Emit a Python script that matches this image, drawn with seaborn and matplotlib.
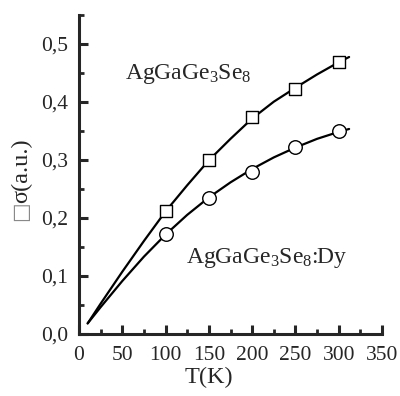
import numpy as np
import pandas as pd
import matplotlib
matplotlib.use("Agg")
import matplotlib.pyplot as plt
import seaborn as sns
from matplotlib.ticker import MultipleLocator, FuncFormatter

# measured points
temp = [100, 150, 200, 250, 300]
sig_pure = [0.211, 0.300, 0.374, 0.422, 0.469]
sig_dy = [0.172, 0.234, 0.279, 0.322, 0.350]

# fitted curves
fit_t = [10, 25, 50, 75, 100, 125, 150, 175, 200, 225, 250, 275, 300, 312]
fit_pure = [0.018, 0.052, 0.107, 0.160, 0.211, 0.256, 0.299, 0.336, 0.371,
            0.400, 0.424, 0.447, 0.468, 0.477]
fit_dy = [0.018, 0.046, 0.091, 0.133, 0.171, 0.205, 0.235, 0.261, 0.284,
          0.304, 0.321, 0.336, 0.348, 0.353]


def main():
    sns.set_style("ticks")
    plt.rcParams["font.family"] = ["Liberation Serif", "DejaVu Serif"]
    plt.rcParams["mathtext.default"] = "regular"

    fig = plt.figure(figsize=(4.0, 3.96), dpi=100)
    ax = fig.add_axes([0.1975, 0.157, 0.7575, 0.806])

    fits = pd.DataFrame({"T": fit_t, "pure": fit_pure, "dy": fit_dy})
    pts = pd.DataFrame({"T": temp, "pure": sig_pure, "dy": sig_dy})

    sns.lineplot(data=fits, x="T", y="pure", color="black", lw=1.6, ax=ax)
    sns.lineplot(data=fits, x="T", y="dy", color="black", lw=1.6, ax=ax)
    sns.scatterplot(data=pts, x="T", y="pure", marker="s", s=80,
                    facecolor="white", edgecolor="black", linewidth=1.0, ax=ax, zorder=3)
    sns.scatterplot(data=pts, x="T", y="dy", marker="o", s=95,
                    facecolor="white", edgecolor="black", linewidth=1.0, ax=ax, zorder=3)

    ax.set_xlim(0, 350)
    ax.set_ylim(0, 0.55)
    ax.xaxis.set_major_locator(MultipleLocator(50))
    ax.xaxis.set_minor_locator(MultipleLocator(25))
    ax.yaxis.set_major_locator(MultipleLocator(0.1))
    ax.yaxis.set_minor_locator(MultipleLocator(0.05))
    ax.yaxis.set_major_formatter(FuncFormatter(lambda v, p: f"{v:.1f}".replace(".", ",")))

    for side in ["top", "right"]:
        ax.spines[side].set_visible(False)
    for side in ["left", "bottom"]:
        ax.spines[side].set_linewidth(2.2)
    ax.tick_params(which="major", direction="in", length=6.5, width=2.2, labelsize=15.5)
    ax.tick_params(axis="x", which="major", pad=9)
    ax.tick_params(axis="y", which="major", pad=8)
    ax.tick_params(which="minor", direction="in", length=3.5, width=2.0)

    ax.set_xlabel("T(K)", fontsize=17.5)
    ax.xaxis.set_label_coords(0.43, -0.105)
    ax.set_ylabel("")
    fig.text(0.055, 0.57, "σ(a.u.)", fontsize=17.5, rotation=90, ha="center", va="center")
    fig.text(0.05, 0.468, "□", fontsize=15, rotation=90, ha="center", va="center",
             color="#888888", family="DejaVu Sans")

    ax.text(53, 0.447, r"AgGaGe$_3$Se$_8$", fontsize=17, va="center", ha="left")
    ax.text(124, 0.131, r"AgGaGe$_3$Se$_8$:Dy", fontsize=17, va="center", ha="left")

    fig.savefig("out.png", dpi=100)


if __name__ == "__main__":
    main()
